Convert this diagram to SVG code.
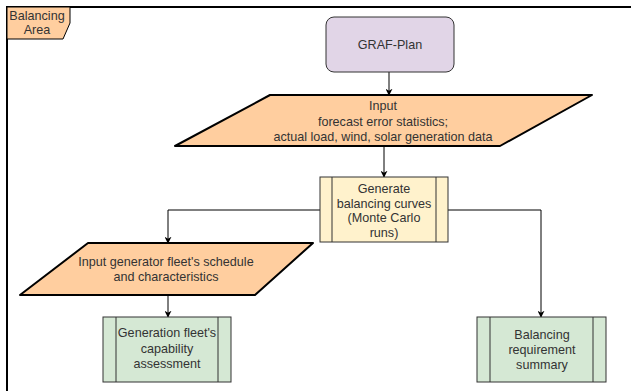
<svg xmlns="http://www.w3.org/2000/svg" width="631" height="391" viewBox="0 0 631 391">
<defs>
<marker id="arr" viewBox="0 0 10 10" refX="9" refY="5" markerWidth="7" markerHeight="7" markerUnits="userSpaceOnUse" orient="auto">
<path d="M0,0 L10,5 L0,10 L3,5 Z" fill="#000"/>
</marker>
</defs>
<style>
text{font-family:"Liberation Sans",Arial,sans-serif;font-size:12.6px;fill:#333;text-anchor:middle}
.c{fill:none;stroke:#000;stroke-width:1}
.io{fill:#ffce9f;stroke:#000;stroke-width:2;stroke-linejoin:round}
.pr{stroke:#333;stroke-width:1}
</style>
<rect width="631" height="391" fill="#fff"/>
<g id="frame">
<path d="M7,400 L7,7 L640,7" fill="none" stroke="#000" stroke-width="2"/>
<path d="M7,7 L70,7 L70,23 L63,39 L7,39 Z" fill="#ffce9f" stroke="#000" stroke-width="1"/>
<text x="37" y="20">Balancing</text>
<text x="37" y="34">Area</text>
</g>
<g id="connectors">
<path class="c" d="M389,72 L389,95" marker-end="url(#arr)"/>
<path class="c" d="M384,146 L384,177" marker-end="url(#arr)"/>
<path class="c" d="M320,210 L168,210 L168,243" marker-end="url(#arr)"/>
<path class="c" d="M448,210 L541,210 L541,317" marker-end="url(#arr)"/>
<path class="c" d="M168,295 L168,317" marker-end="url(#arr)"/>
</g>
<g id="graf-plan">
<rect x="326" y="17" width="128" height="55" rx="8" fill="#e1d5e7" stroke="#333" stroke-width="1"/>
<text x="390" y="49">GRAF-Plan</text>
</g>
<g id="input1">
<path class="io" d="M270,95 L592,95 L500,146 L175,146 Z"/>
<text x="383" y="110">Input</text>
<text x="383" y="126">forecast error statistics;</text>
<text x="383" y="141">actual load, wind, solar generation data</text>
</g>
<g id="generate">
<rect class="pr" x="320" y="177" width="128" height="65" fill="#fff2cc"/>
<path class="pr" d="M332,177 L332,242 M436,177 L436,242"/>
<text x="384" y="193">Generate</text>
<text x="384" y="208">balancing curves</text>
<text x="384" y="222">(Monte Carlo</text>
<text x="384" y="237">runs)</text>
</g>
<g id="input2">
<path class="io" d="M88,243 L313,243 L255,295 L20,295 Z"/>
<text x="166" y="266">Input generator fleet's schedule</text>
<text x="166" y="281">and characteristics</text>
</g>
<g id="gen-fleet">
<rect class="pr" x="103" y="317" width="128" height="65" fill="#d5e8d4"/>
<path class="pr" d="M116,317 L116,382 M218,317 L218,382"/>
<text x="167" y="337">Generation fleet's</text>
<text x="167" y="353">capability</text>
<text x="167" y="368">assessment</text>
</g>
<g id="bal-req">
<rect class="pr" x="477" y="317" width="129" height="65" fill="#d5e8d4"/>
<path class="pr" d="M490,317 L490,382 M593,317 L593,382"/>
<text x="542" y="339">Balancing</text>
<text x="542" y="354">requirement</text>
<text x="542" y="369">summary</text>
</g>
</svg>
